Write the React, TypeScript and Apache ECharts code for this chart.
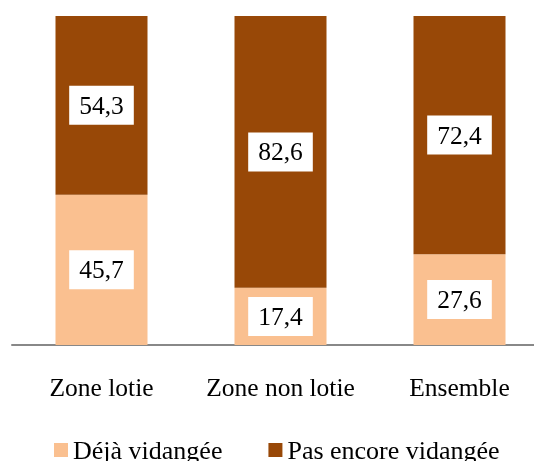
import React, { useEffect, useRef } from "react";
import * as echarts from "echarts";

const categories = ["Zone lotie", "Zone non lotie", "Ensemble"];
const dejaVidangee = [45.7, 17.4, 27.6];
const pasEncore = [54.3, 82.6, 72.4];
const seriesNames = ["Déjà vidangée", "Pas encore vidangée"];

const FONT = "'Liberation Serif', 'Times New Roman', serif";

export default function App() {
  const ref = useRef<HTMLDivElement>(null);
  useEffect(() => {
    if (!ref.current) return;
    const chart = echarts.init(ref.current, null, { renderer: "svg" });
    const label = {
      show: true,
      position: "inside",
      backgroundColor: "#ffffff",
      color: "#000",
      fontFamily: FONT,
      fontSize: 25.5,
      lineHeight: 26,
      padding: [7, 10, 6, 10],
      formatter: (p: any) => String(p.value).replace(".", ","),
    };
    chart.setOption({
      animation: false,
      grid: { left: 12, top: 16, width: 537, height: 329 },
      xAxis: {
        type: "category",
        data: categories,
        axisLine: { lineStyle: { color: "#888888", width: 2 } },
        axisTick: { show: false },
        axisLabel: {
          color: "#000",
          fontFamily: FONT,
          fontSize: 25.5,
          margin: 29,
          interval: 0,
          hideOverlap: false,
        },
      },
      yAxis: { type: "value", min: 0, max: 100, show: false, splitLine: { show: false } },
      legend: {
        top: 432,
        left: 49,
        itemWidth: 14,
        itemHeight: 14,
        itemGap: 46,
        icon: "rect",
        textStyle: { color: "#000", fontFamily: FONT, fontSize: 26, lineHeight: 24 },
        data: seriesNames,
      },
      series: [
        {
          name: seriesNames[0],
          type: "bar",
          stack: "a",
          barWidth: 92,
          data: dejaVidangee,
          itemStyle: { color: "#FAC090" },
          label,
        },
        {
          name: seriesNames[1],
          type: "bar",
          stack: "a",
          barWidth: 92,
          data: pasEncore,
          itemStyle: { color: "#984807" },
          label,
        },
      ],
    });
    return () => chart.dispose();
  }, []);
  return (
    <div
      style={{
        position: "fixed",
        left: 0,
        top: 0,
        width: 534,
        height: 461,
        overflow: "hidden",
      }}
    >
      <div ref={ref} style={{ width: 549, height: 461 }} />
    </div>
  );
}
